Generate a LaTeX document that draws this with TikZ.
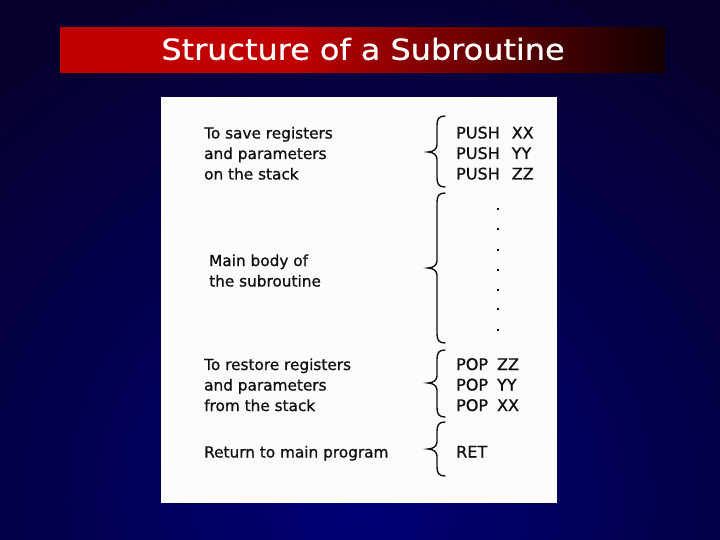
\documentclass[tikz,border=0pt]{standalone}
\usepackage{fontspec}
\setmainfont{DejaVu Sans}
\newfontfamily\titlefont{DejaVu Sans}[FakeBold=0.6]
\newfontfamily\scanfont{DejaVu Sans}[FakeBold=0.9]
\definecolor{bgin}{RGB}{0,0,120}
\definecolor{bgout}{RGB}{6,0,44}
\definecolor{tred}{RGB}{192,0,0}
\definecolor{tdark}{RGB}{18,0,2}
\definecolor{ink}{RGB}{15,15,15}
\definecolor{paper}{RGB}{252,252,252}
\pgfdeclarehorizontalshading{titleshade}{100bp}{color(0bp)=(tred); color(25bp)=(tred); color(44bp)=(tred); color(75bp)=(tdark); color(100bp)=(tdark)}
\newcommand\curlybrace[3]{%
  \draw[bracestyle] (445,#1) .. controls (439,#1) and (437,#1+3) .. (437,#1+9)
    -- (437,#2-7) .. controls (437,#2-3) and (433,#2) .. (428,#2)
    .. controls (433,#2) and (437,#2+3) .. (437,#2+7)
    -- (437,#3-9) .. controls (437,#3-3) and (439,#3) .. (445,#3);}
\begin{document}
\begin{tikzpicture}[x=1pt,y=-1pt,
  txt/.style={anchor=base west, inner sep=0pt, font=\scanfont\fontsize{15.3}{17}\selectfont, text=ink},
  code/.style={anchor=base west, inner sep=0pt, font=\scanfont\fontsize{16}{18}\selectfont, text=ink},
  bracestyle/.style={draw=ink, line width=1.4pt, line cap=round},
  dotmark/.style={fill=ink}]
\useasboundingbox (0,0) rectangle (720,540);
\begin{scope}
  \clip (0,0) rectangle (720,540);
  \shade[inner color=bgin, outer color=bgout] (-200,-60) rectangle (920,1060);
\end{scope}
\node (bar) [shade, shading=titleshade, minimum width=605pt, minimum height=45pt, inner sep=0pt, anchor=north west] at (60,27) {};
\node (title) [text=white, inner sep=0pt, font=\titlefont\fontsize{29}{32}\selectfont] at (363,49) {\scalebox{1.1}[1]{Structure of a Subroutine}};
\node (panel) [fill=paper, minimum width=396pt, minimum height=406pt, inner sep=0pt, anchor=north west] at (161,97) {};
% left descriptions
\node[txt] (s1) at (204,138.5) {To save registers};
\node[txt] (s2) at (204,159) {and parameters};
\node[txt] (s3) at (204,179.5) {on the stack};
\node[txt] (m1) at (209,266) {Main body of};
\node[txt] (m2) at (209,286.5) {the subroutine};
\node[txt] (r1) at (204,370) {To restore registers};
\node[txt] (r2) at (204,390.5) {and parameters};
\node[txt] (r3) at (204,411) {from the stack};
\node[txt] (ret) at (204,457.5) {Return to main program};
% code column
\node[code] (p1) at (456,138.5) {PUSH\hspace{12pt}XX};
\node[code] (p2) at (456,159) {PUSH\hspace{12pt}YY};
\node[code] (p3) at (456,179.5) {PUSH\hspace{12pt}ZZ};
\node[code] (q1) at (456,370) {POP\hspace{9pt}ZZ};
\node[code] (q2) at (456,390.5) {POP\hspace{9pt}YY};
\node[code] (q3) at (456,411) {POP\hspace{9pt}XX};
\node[code] (rt) at (456,457.5) {RET};
% dots
\foreach \yy in {209,229,250,270,290,309,330}
  \fill[dotmark] (496.5,\yy-1.2) rectangle ++(2.4,2.4);
% braces
\curlybrace{116}{152}{187}
\curlybrace{193}{268}{343}
\curlybrace{350}{383}{417}
\curlybrace{422}{449}{476}
\end{tikzpicture}
\end{document}
